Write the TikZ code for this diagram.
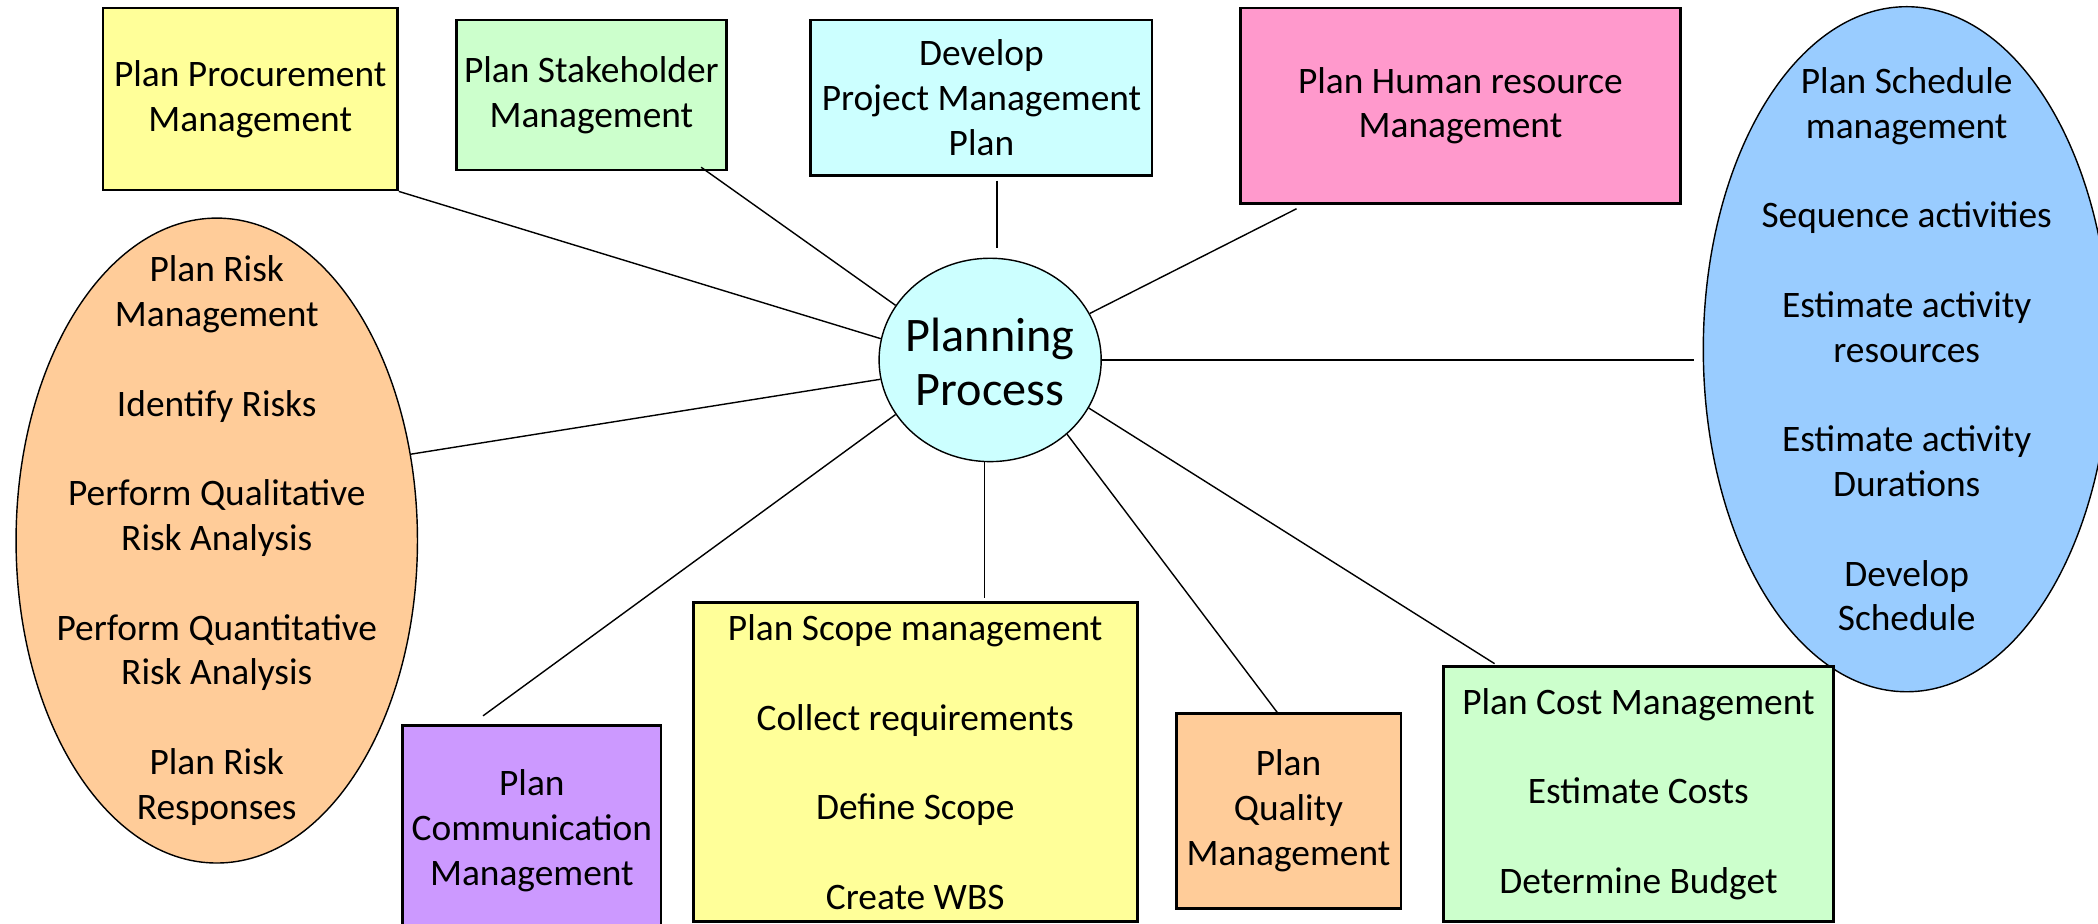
\documentclass[tikz,border=0pt]{standalone}
\usepackage{fontspec}
\setmainfont{Carlito}
\usetikzlibrary{shapes.geometric}
\definecolor{cyellow}{HTML}{FFFF99}
\definecolor{cgreen}{HTML}{CCFFCC}
\definecolor{ccyan}{HTML}{CCFFFF}
\definecolor{cpink}{HTML}{FF99CC}
\definecolor{cblue}{HTML}{99CCFF}
\definecolor{corange}{HTML}{FFCC99}
\definecolor{cpurple}{HTML}{CC99FF}
\newcommand{\gap}{\\[19.05pt]}
\tikzset{
  txt/.style={font=\fontsize{15.9pt}{19.05pt}\selectfont, align=center, inner sep=0pt, text=black,
    execute at begin node={\rule{0pt}{16pt}}},
  box/.style={txt, draw=black, line width=1.2pt, rectangle},
  oval/.style={draw=black, line width=0.6pt, ellipse, inner sep=0pt},
  link/.style={draw=black, line width=0.6pt},
}
\begin{document}
\begin{tikzpicture}
\useasboundingbox (0,0) rectangle (31.36,-13.80);
\clip (0,0) rectangle (31.36,-13.80);
% top row
\node[box, fill=cyellow, minimum width=4.40cm, minimum height=2.72cm] (proc) at (3.74,-1.48) {Plan Procurement\\Management};
\node[box, fill=cgreen, minimum width=4.04cm, minimum height=2.24cm] (stake) at (8.84,-1.42) {Plan Stakeholder\\Management};
\node[box, fill=ccyan, minimum width=5.10cm, minimum height=2.32cm] (dev) at (14.67,-1.46) {Develop\\Project Management\\Plan};
\node[box, fill=cpink, minimum width=6.58cm, minimum height=2.92cm] (hr) at (21.83,-1.58) {Plan Human resource\\Management};
% ellipses
\node[oval, fill=cblue, minimum width=6.08cm, minimum height=10.24cm] (sched) at (28.50,-5.22) {};
\node[txt] (schedt) at (sched.center) {Plan Schedule\\management\gap Sequence activities\gap Estimate activity\\resources\gap Estimate activity\\Durations\gap Develop\\Schedule};
\node[oval, fill=corange, minimum width=6.00cm, minimum height=9.64cm] (risk) at (3.24,-8.08) {};
\node[txt] (riskt) at (risk.center) {Plan Risk\\Management\gap Identify Risks\gap Perform Qualitative\\Risk Analysis\gap Perform Quantitative\\Risk Analysis\gap Plan Risk\\Responses};
\node[oval, fill=ccyan, minimum width=3.32cm, minimum height=3.04cm] (plan) at (14.80,-5.38) {};
\node[txt, font=\fontsize{20.5pt}{23.3pt}\selectfont, yshift=-0.03cm] (plant) at (plan.center) {Planning\\Process};
% bottom row
\node[box, fill=cpurple, minimum width=3.86cm, minimum height=3.16cm] (comm) at (7.95,-12.42) {Plan\\Communication\\Management};
\node[box, fill=cyellow, minimum width=6.64cm, minimum height=4.78cm] (scope) at (13.68,-11.39) {Plan Scope management\gap Collect requirements\gap Define Scope\gap Create WBS};
\node[box, fill=corange, minimum width=3.36cm, minimum height=2.92cm] (qual) at (19.26,-12.12) {Plan\\Quality\\Management};
\node[box, fill=cgreen, minimum width=5.82cm, minimum height=3.82cm] (cost) at (24.49,-11.87) {Plan Cost Management\gap Estimate Costs\gap Determine Budget};
% free ends
\coordinate (stakeE) at (10.48,-2.50);
\coordinate (devA) at (14.90,-2.70);
\coordinate (devB) at (14.90,-3.70);
\coordinate (hrE) at (19.38,-3.12);
\coordinate (schedE) at (25.32,-5.38);
\coordinate (commE) at (7.22,-10.70);
\coordinate (scopeA) at (14.72,-6.90);
\coordinate (scopeB) at (14.72,-8.94);
\coordinate (qualE) at (19.10,-10.66);
\coordinate (costE) at (22.34,-9.92);
% connectors
\draw[link] (proc.south east) -- (plan.169);
\draw[link] (stakeE) -- (plan.150);
\draw[link] (devA) -- (devB);
\draw[link] (hrE) -- (plan.25);
\draw[link] (plan.east) -- (schedE);
\draw[link] (risk.24) -- (plan.190);
\draw[link] (commE) -- (plan.210);
\draw[link] (scopeA) -- (scopeB);
\draw[link] (plan.-44) -- (qualE);
\draw[link] (plan.-26) -- (costE);
\end{tikzpicture}
\end{document}
